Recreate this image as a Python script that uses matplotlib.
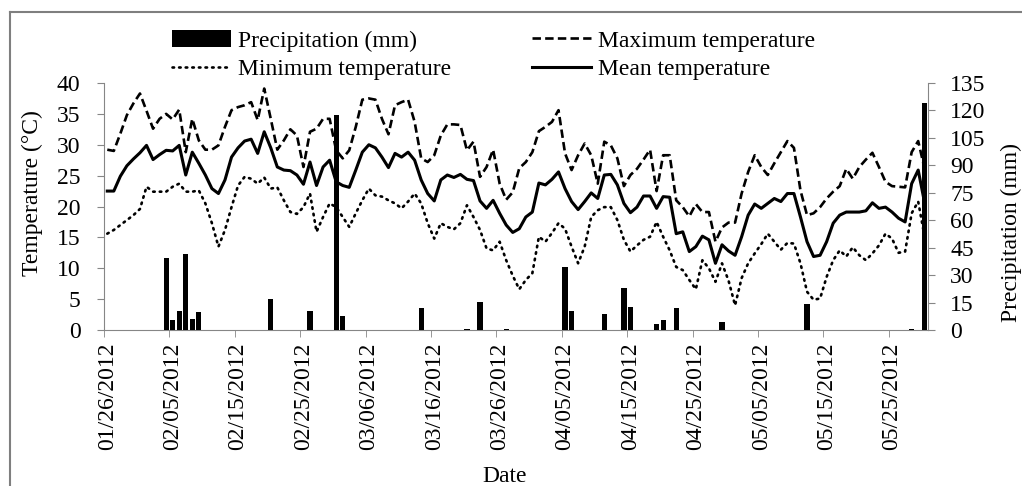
import numpy as np
import pandas as pd
import matplotlib
matplotlib.use('Agg')
import matplotlib.pyplot as plt
from matplotlib.lines import Line2D

# Datos diarios 01/26/2012 - 05/30/2012
fechas = pd.date_range('2012-01-26', '2012-05-30')

t_max = [29.2, 29.0, 31.8, 34.8, 36.7, 38.3, 35.5, 32.6, 34.2, 35.0,
         34.1, 35.7, 28.8, 34.2, 30.7, 29.2, 29.2, 29.9, 32.9, 35.6,
         36.1, 36.4, 36.9, 34.0, 39.1, 34.2, 29.2, 30.7, 32.5, 31.5,
         26.4, 32.1, 32.6, 34.2, 34.2, 29.1, 27.8, 29.1, 32.9, 37.3,
         37.5, 37.3, 34.2, 31.7, 36.4, 36.9, 37.3, 33.7, 27.8, 27.2,
         28.3, 31.5, 33.3, 33.3, 33.2, 29.1, 30.5, 24.8, 26.4, 29.2,
         23.7, 21.1, 22.3, 26.2, 27.2, 28.8, 32.2, 32.9, 33.7, 35.6,
         28.6, 25.9, 28.3, 30.2, 28.3, 23.7, 30.5, 29.9, 27.8, 23.3,
         25.1, 26.1, 27.6, 29.2, 22.5, 28.3, 28.3, 21.0, 19.9, 18.4,
         20.4, 19.1, 19.1, 14.3, 16.6, 17.4, 17.4, 22.1, 25.6, 28.3,
         26.4, 25.1, 27.0, 28.8, 30.6, 29.5, 22.6, 18.6, 18.9, 19.9,
         21.3, 22.4, 23.3, 26.1, 24.5, 26.4, 27.6, 28.7, 26.4, 24.0,
         23.3, 23.2, 23.1, 28.8, 30.6, 26.0]

t_min = [15.6, 16.2, 17.0, 17.8, 18.6, 19.6, 23.2, 22.4, 22.4, 22.4,
         23.2, 23.7, 22.4, 22.4, 22.6, 20.5, 17.3, 13.5, 16.2, 19.9,
         23.4, 24.8, 24.5, 23.7, 24.7, 22.9, 23.1, 21.0, 19.1, 18.8,
         19.9, 22.1, 15.9, 18.3, 20.5, 19.9, 18.3, 16.7, 18.9, 21.0,
         22.9, 21.8, 21.6, 21.0, 20.5, 19.7, 20.8, 22.1, 20.5, 17.3,
         14.8, 17.3, 16.7, 16.3, 17.3, 20.2, 18.3, 16.2, 13.2, 12.9,
         14.3, 11.3, 8.8, 6.6, 8.1, 9.2, 15.1, 14.3, 15.7, 17.3,
         16.4, 13.5, 10.8, 13.5, 18.3, 19.4, 19.9, 19.9, 17.8, 14.6,
         12.7, 13.7, 14.6, 15.1, 17.5, 15.1, 12.9, 10.2, 9.7, 8.1,
         6.6, 11.3, 10.0, 7.8, 10.8, 8.0, 4.0, 8.4, 10.8, 12.4,
         13.9, 15.6, 14.3, 13.0, 14.1, 14.0, 10.8, 6.2, 4.9, 5.1,
         8.6, 11.3, 12.9, 11.9, 13.4, 12.1, 11.3, 12.4, 13.7, 15.6,
         14.8, 12.5, 12.7, 18.9, 20.8, 15.0]

t_media = [22.5, 22.5, 24.9, 26.6, 27.7, 28.7, 29.9, 27.6, 28.4, 29.1,
           29.0, 29.9, 25.1, 28.8, 27.0, 25.1, 22.9, 22.1, 24.3, 28.0,
           29.5, 30.6, 30.9, 28.6, 32.1, 29.5, 26.4, 25.9, 25.8, 25.1,
           23.6, 27.2, 23.4, 26.4, 27.5, 24.0, 23.4, 23.1, 25.9, 28.8,
           30.0, 29.5, 28.0, 26.3, 28.6, 28.0, 28.8, 27.5, 24.3, 22.1,
           20.9, 24.3, 25.1, 24.7, 25.2, 24.4, 24.2, 20.9, 19.7, 21.0,
           18.9, 17.0, 15.8, 16.4, 18.3, 19.1, 23.8, 23.5, 24.4, 25.6,
           22.9, 20.8, 19.5, 20.8, 22.2, 21.3, 25.1, 25.2, 23.5, 20.5,
           19.0, 19.9, 21.7, 21.7, 19.7, 21.6, 21.5, 15.6, 15.9, 12.7,
           13.5, 15.2, 14.6, 10.8, 13.8, 12.8, 12.1, 15.1, 18.6, 20.4,
           19.7, 20.5, 21.3, 20.8, 22.1, 22.1, 18.3, 14.3, 11.9, 12.1,
           14.3, 17.3, 18.6, 19.1, 19.1, 19.1, 19.3, 20.6, 19.7, 19.9,
           19.1, 18.1, 17.5, 23.7, 25.9, 20.5]

# Dias con lluvia y precipitacion (mm)
lluvia_fechas = ['2012-02-04', '2012-02-05', '2012-02-06', '2012-02-07',
                 '2012-02-08', '2012-02-09', '2012-02-20', '2012-02-26',
                 '2012-03-01', '2012-03-02', '2012-03-14', '2012-03-21',
                 '2012-03-23', '2012-03-27', '2012-04-05', '2012-04-06',
                 '2012-04-11', '2012-04-14', '2012-04-15', '2012-04-19',
                 '2012-04-20', '2012-04-22', '2012-04-29', '2012-05-12',
                 '2012-05-28', '2012-05-30']
lluvia_mm = [39.5, 5.5, 10.4, 41.3, 5.8, 9.6, 16.7, 10.5, 117.4, 7.6,
             11.8, 0.6, 15.1, 0.6, 34.6, 10.6, 8.7, 22.7, 12.7, 3.1,
             5.5, 11.8, 4.2, 14.2, 0.6, 124.0]

plt.rcParams['font.family'] = ['Liberation Serif', 'DejaVu Serif']
plt.rcParams['font.size'] = 17
gris = '#868686'

x = np.arange(len(fechas))
etiquetas = fechas.strftime('%m/%d/%Y')
x_lluvia = fechas.get_indexer(pd.to_datetime(lluvia_fechas))

fig = plt.figure(figsize=(10.22, 4.86), dpi=100)
ax = fig.add_axes([104/1022, 1 - 330/486, (928 - 104)/1022, (330 - 83)/486])

l_max, = ax.plot(x, t_max, color='black', lw=1.9, ls=(0, (3.2, 1.6)))
l_min, = ax.plot(x, t_min, color='black', lw=1.9, ls=(0, (0.6, 1.9)),
                 dash_capstyle='round')
l_media, = ax.plot(x, t_media, color='black', lw=2.2)

ax2 = ax.twinx()
barras = ax2.bar(x_lluvia, lluvia_mm, width=0.8, color='black')

ax.set_xlim(-0.5, len(x) - 0.5)
ax.set_ylim(0, 40)
ax.set_yticks(range(0, 41, 5))
ax2.set_ylim(0, 135)
ax2.set_yticks(range(0, 136, 15))

ax.set_xticks(x[::10])
ax.set_xticklabels(etiquetas[::10], rotation=90)
ax.set_xticks(x[::10] - 0.5, minor=True)
ax.tick_params(axis='x', which='major', length=0, pad=9)
ax.tick_params(axis='x', which='minor', length=5, color=gris)
ax.tick_params(axis='y', length=5, color=gris, pad=12)
ax2.tick_params(axis='y', length=5, color=gris, pad=11)

for a in (ax, ax2):
    a.spines['top'].set_visible(False)
ax.spines['right'].set_visible(False)
ax2.spines['left'].set_visible(False)
ax2.spines['bottom'].set_visible(False)
for s in ('left', 'bottom'):
    ax.spines[s].set_color(gris)
ax2.spines['right'].set_color(gris)

fig.text(32/1022, 1 - 193/486, 'Temperature (°C)', rotation=90,
         ha='center', va='center')
fig.text(1011/1022, 1 - 233/486, 'Precipitation (mm)', rotation=90,
         ha='center', va='center')
fig.text(505/1022, 1 - 476/486, 'Date', ha='center', va='center')

fig.legend([barras.patches[0], l_min, l_max, l_media],
           ['Precipitation (mm)', 'Minimum temperature',
            'Maximum temperature', 'Mean temperature'],
           ncol=2, loc='upper left', bbox_to_anchor=(172/1022, 1 - 30/486),
           frameon=False, borderpad=0, borderaxespad=0, handlelength=2.5,
           handletextpad=0.3, columnspacing=3.4, labelspacing=0.3)

# marco del grafico
fig.add_artist(Line2D([10/1022, 10/1022], [0, 1 - 12/486],
                      transform=fig.transFigure, color='#7f7f7f', lw=1.5))
fig.add_artist(Line2D([10/1022, 1], [1 - 12/486, 1 - 12/486],
                      transform=fig.transFigure, color='#7f7f7f', lw=1.5))

fig.savefig('out.png', dpi=100)
